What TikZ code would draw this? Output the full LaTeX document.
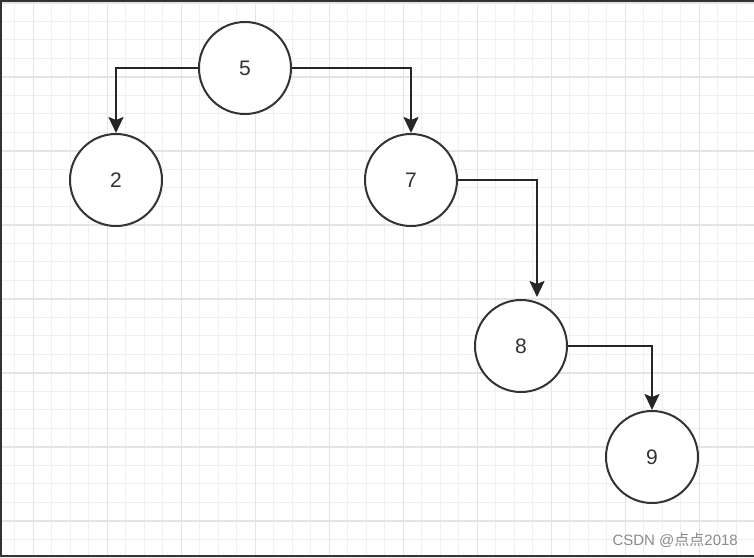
\documentclass[tikz,border=0pt]{standalone}
\usepackage{fontspec}
\setmainfont{Liberation Sans}
\newfontfamily\cjk{Noto Sans CJK SC}
\usetikzlibrary{arrows.meta, positioning}
\definecolor{gridminor}{HTML}{F0F0F0}
\definecolor{gridmajor}{HTML}{E4E4E4}
\definecolor{linegray}{HTML}{333333}
\definecolor{marktext}{HTML}{8A8A8A}
\tikzset{
	tree-node/.style={
		circle,
		draw=linegray, line width=2pt,
		fill=white,
		minimum size=92pt,
		inner sep=0pt,
		font=\fontsize{21}{25}\selectfont,
		text=linegray,
		anchor=center
	},
	edge-style/.style = {line width=2pt, draw=black!85, -{Stealth[length=16pt,width=15pt,inset=3pt]}},
	grid-minor/.style = {draw=gridminor, line width=1pt},
	grid-major/.style = {draw=gridmajor, line width=1.6pt},
}

\begin{document}
\begin{tikzpicture}[x=1pt,y=-1pt]
	\useasboundingbox (0,0) rectangle (754,557);
	\fill[white] (0,0) rectangle (754,557);
	% grid
	\foreach \i in {0,...,40} {
		\draw[grid-minor] (14.8+18.5*\i,0) -- (14.8+18.5*\i,557);
	}
	\foreach \i in {0,...,30} {
		\draw[grid-minor] (0,2.7+18.5*\i) -- (754,2.7+18.5*\i);
	}
	\foreach \i in {0,...,10} {
		\draw[grid-major] (33.3+74*\i,0) -- (33.3+74*\i,557);
	}
	\foreach \i in {0,...,7} {
		\draw[grid-major] (0,2.7+74*\i) -- (754,2.7+74*\i);
	}
	% frame
	\draw[linegray, line width=2.5pt] (754,1.2) -- (1.2,1.2) -- (1.2,555.8) -- (754,555.8);

	\node (n5) [tree-node] at (245,68) {5};
	\node (n2) [tree-node] at (116,180) {2};
	\node (n7) [tree-node] at (411,180) {7};
	\node (n8) [tree-node] at (521,346) {8};
	\node (n9) [tree-node] at (652,457) {9};

	\draw[edge-style] (n5.west) -| (n2.north);
	\draw[edge-style] (n5.east) -| (n7.north);
	\draw[edge-style] (n7.east) -| ([xshift=16pt,yshift=2pt]n8.north);
	\draw[edge-style] (n8.east) -| (n9.north);

	\node (mark) [anchor=east, text=marktext, font=\fontsize{15}{18}\selectfont, inner sep=0pt] at (738,540) {CSDN @{\cjk 点点}2018};
\end{tikzpicture}
\end{document}
